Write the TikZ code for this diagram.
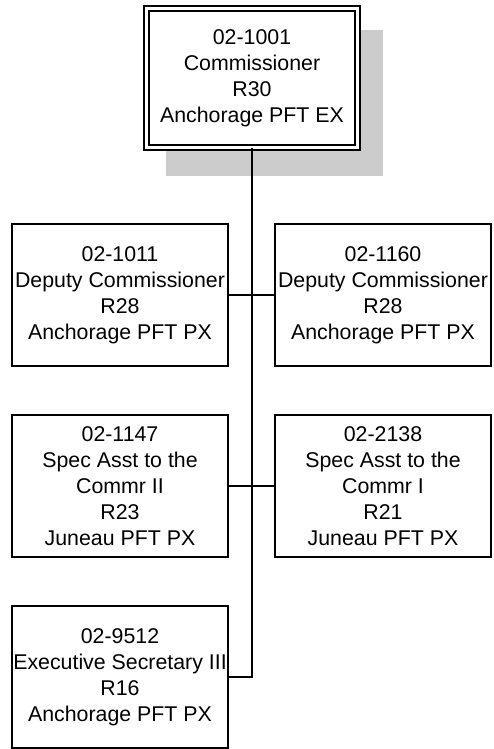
\documentclass[tikz,border=0pt]{standalone}
\usepackage{fontspec}
\setmainfont{Liberation Sans}
\definecolor{shadowgrey}{HTML}{CCCCCC}
\begin{document}
\begin{tikzpicture}[x=0.75pt,y=-0.75pt,
  box/.style={draw=black, line width=1.3pt, fill=white, minimum width=161.5pt, minimum height=106.5pt,
    inner sep=0pt, align=center, font=\fontsize{16}{19.6}\selectfont},
  topbox/.style={box, double=white, line width=1.2pt, double distance=2.4pt, minimum width=158pt, minimum height=104.5pt},
  conn/.style={draw=black, line width=1.3pt}]
\useasboundingbox (0,0) rectangle (493,749);
\fill[shadowgrey] (165.5,30) rectangle (382.5,176);
\node[topbox] (top) at (252,78) {02-1001\\Commissioner\\R30\\Anchorage PFT EX};
\node[box] (dl) at (120,295) {02-1011\\Deputy Commissioner\\R28\\Anchorage PFT PX};
\node[box] (dr) at (383,295) {02-1160\\Deputy Commissioner\\R28\\Anchorage PFT PX};
\node[box] (sl) at (120,486) {02-1147\\Spec Asst to the\\Commr II\\R23\\Juneau PFT PX};
\node[box] (sr) at (383,486) {02-2138\\Spec Asst to the\\Commr I\\R21\\Juneau PFT PX};
\node[box] (es) at (120,677) {02-9512\\Executive Secretary III\\R16\\Anchorage PFT PX};
\draw[conn] (top.south) |- (es.east);
\draw[conn] (dl.east) -- (dl.east -| top.south);
\draw[conn] (dr.west) -- (dr.west -| top.south);
\draw[conn] (sl.east) -- (sl.east -| top.south);
\draw[conn] (sr.west) -- (sr.west -| top.south);
\end{tikzpicture}
\end{document}
